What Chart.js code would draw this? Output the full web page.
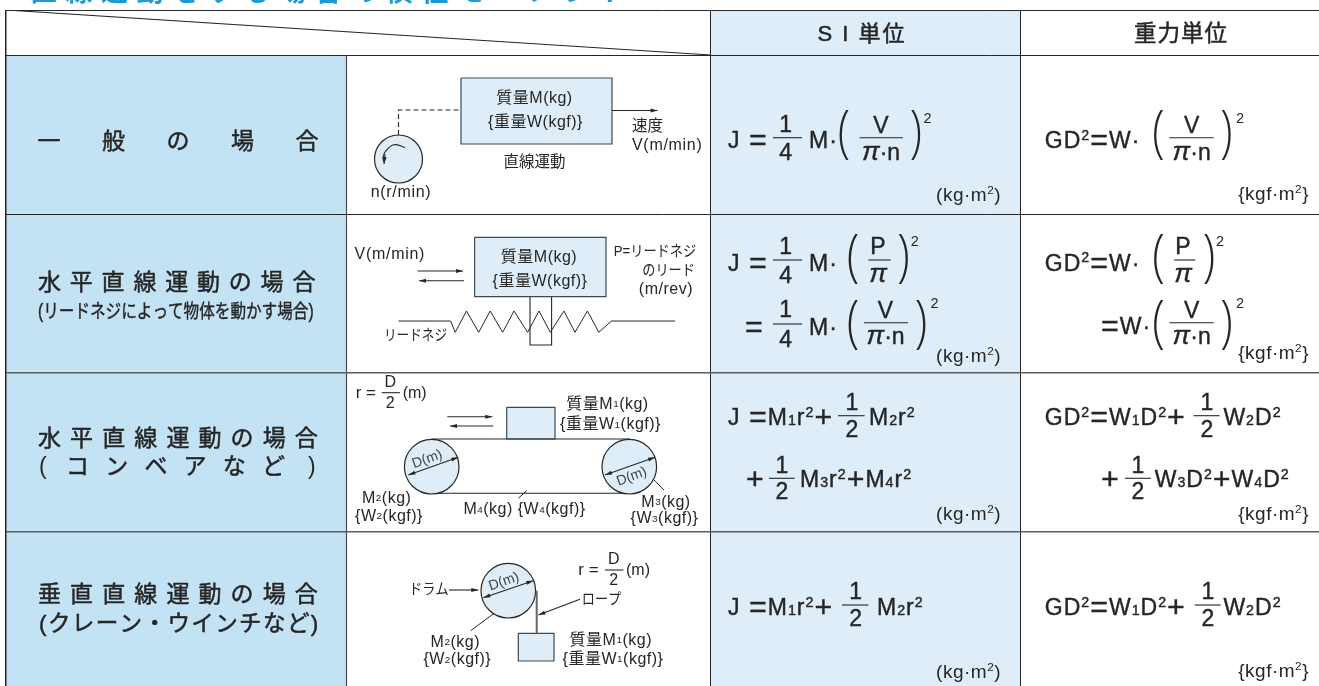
<!DOCTYPE html>
<html>
<head>
  <meta charset="utf-8">
  <title>直線運動をする場合の慣性モーメント</title>
  <script src="https://cdn.jsdelivr.net/npm/chart.js"></script>
  <style>
    html, body { margin: 0; background: #fff; overflow: hidden; }
    canvas { display: block; }
  </style>
</head>
<body>
  <canvas id="inertiaTable" width="1319" height="686"></canvas>
  <script>
    // table rules (scale units = picture px)
    const colEdges = [6, 710.5, 1020.5];
    const rowEdges = [10, 55, 214, 373, 532];

    // text
    const titleText = '■直線運動をする場合の慣性モーメント';
    const unitHeads = ['S I 単位', '重力単位'];
    const caseTitles = ['一般の場合', '水平直線運動の場合', '水平直線運動の場合', '垂直直線運動の場合'];
    const caseNotes = ['(リードネジによって物体を動かす場合)', 'コンベアなど', '(クレーン・ウインチなど)'];
    const massLabels = ['質量M(kg)', '{重量W(kgf)}', '質量M_1(kg)', '{重量W_1(kgf)}'];
    const siUnit = '(kg·m^2)';
    const gravityUnit = '{kgf·m^2}';

    // diagram 1
    const dashPath = [[398.5, 135], [398.5, 110], [461, 110]];
    const spinArc = [[405, 147.5], [394, 144.7], [386, 150.7], [383, 157.3], [384, 162]];
    // diagram 2
    const screwPath = [[398.5, 321], [450.6, 321], [455.2, 332.3], [466.5, 311], [478.7, 332.3], [490.2, 311],
      [502.7, 332.3], [514, 311], [527.6, 332.3], [539, 311], [550.3, 332.3], [563.9, 311], [575, 332.3],
      [587.4, 311], [598.8, 332.3], [611.4, 321], [675, 321]];
    const nutPath = [[530, 296.7], [530, 345], [551.6, 345], [551.6, 296.7]];
    // boxes: x0, y0, x1, y1
    const massBoxes = [[461, 78, 612, 144], [474.6, 237.3, 606, 296.7], [506.7, 407.3, 555, 439], [518.3, 633.3, 554, 661]];
    // pulleys: x, y, radius
    const pulleys = [[398.5, 159, 24], [431.7, 466.7, 27.3], [629.3, 466.7, 27.3], [508.3, 590.7, 27.3]];
    const beltLines = [[[431.7, 439], [630, 439]], [[431.7, 493.3], [630, 493.3]]];
    const leaderLines = [[[518.3, 498.3], [526.7, 490.7]], [[653.3, 479.3], [664, 490]], [[494, 613.3], [470.7, 630.7]]];
    const ropeLine = [[536.7, 590.7], [536.7, 633.3]];
    // arrows: tail, tip
    const arrows = [
      [[612, 110.5], [657.6, 110.5]],
      [[417.6, 271], [463, 271]], [[464, 280.7], [419, 280.7]],
      [[447.3, 416.7], [492.3, 416.7]], [[493.3, 426], [450, 426]],
      [[449, 590], [478.3, 590]], [[580, 599.3], [538.3, 615]],
      [[385, 154], [384, 164]]
    ];
    const doubleArrows = [
      [[408.3, 475], [458.3, 457.3]], [[605, 475], [655, 457.3]], [[483.3, 597.7], [533.3, 580.7]]
    ];
    // fraction bars: x0, x1, y
    const fractionBars = [
      [773, 802, 137.7], [859.5, 903, 137.7], [1169.4, 1213.7, 137.7],
      [773, 802, 260], [868.4, 890.6, 260], [1174, 1195.4, 260],
      [773, 802, 324], [864, 908, 322.7], [1169.4, 1213.7, 322.7],
      [838, 864.6, 415.7], [1193.5, 1219.5, 415.7], [769, 794.7, 478.3], [1124.8, 1150.8, 478.3],
      [842, 868.4, 605], [1194.7, 1220.7, 605],
      [381.7, 400, 392.7], [605, 623.3, 570]
    ];

    const INK = '#262626';
    const RULE = '#444';
    const PALE = '#deedf7';
    const SKY = '#c3e2f3';
    const FONT = '"Liberation Sans", "Noto Sans CJK JP", sans-serif';

    const toPoints = pts => pts.map(p => ({ x: p[0], y: p[1] }));

    function line(pts, extra) {
      return Object.assign({
        type: 'scatter', data: toPoints(pts), showLine: true, pointRadius: 0,
        borderColor: INK, borderWidth: 1.1, fill: false
      }, extra);
    }

    function poly(pts, color, stroke) {
      const closed = pts.concat([pts[0]]);
      return line(closed, { fill: 'shape', backgroundColor: color, borderColor: stroke || color, borderWidth: stroke ? 1.2 : 0 });
    }

    const rect = (x0, y0, x1, y1) => [[x0, y0], [x1, y0], [x1, y1], [x0, y1]];

    // little filled head with its tip on the given point
    function head(tail, tip, size) {
      const dx = tip[0] - tail[0], dy = tip[1] - tail[1];
      const len = Math.hypot(dx, dy), ux = dx / len, uy = dy / len;
      const bx = tip[0] - ux * size, by = tip[1] - uy * size;
      return poly([tip, [bx - uy * 2, by + ux * 2], [bx + uy * 2, by - ux * 2]], INK);
    }

    const datasets = [
      poly(rect(6, 55, 346.5, 686), SKY),
      poly(rect(710.5, 10, 1020.5, 686), PALE),
      line([[346.5, 55], [346.5, 686]], { borderColor: RULE }),
      line([[6, 10], [710.5, 55]], { borderColor: INK })
    ];
    massBoxes.forEach(b => datasets.push(poly(rect(b[0], b[1], b[2], b[3]), PALE, '#3d4a52')));
    beltLines.forEach(l => datasets.push(line(l)));
    pulleys.forEach(p => datasets.push({
      type: 'scatter', data: [{ x: p[0], y: p[1] }], pointRadius: p[2],
      pointBackgroundColor: PALE, pointBorderColor: INK, pointBorderWidth: 1.2
    }));
    datasets.push(line(dashPath, { borderDash: [5, 3] }));
    datasets.push(line(spinArc, { tension: 0.4 }));
    datasets.push(line(screwPath, { borderWidth: 1 }));
    datasets.push(line(nutPath));
    leaderLines.forEach(l => datasets.push(line(l, { borderWidth: 1 })));
    datasets.push(line(ropeLine, { borderColor: '#666', borderWidth: 2 }));
    arrows.forEach(a => {
      datasets.push(line(a));
      datasets.push(head(a[0], a[1], 7));
    });
    doubleArrows.forEach(a => {
      datasets.push(line(a));
      datasets.push(head(a[0], a[1], 7));
      datasets.push(head(a[1], a[0], 7));
    });
    fractionBars.forEach(b => datasets.push(line([[b[0], b[2]], [b[1], b[2]]], { borderWidth: 1.1 })));

    // ^x raises, _x lowers the next character, π goes italic, ops grow when asked
    function parseRuns(str, size, ops) {
      const runs = [];
      const plain = s => {
        const last = runs[runs.length - 1];
        if (last && last.plain) last.text += s;
        else runs.push({ text: s, size: size, dy: 0, plain: true });
      };
      for (let i = 0; i < str.length; i++) {
        const c = str[i];
        if (c === '^') runs.push({ text: str[++i], size: size * 0.62, dy: -size * 0.36 });
        else if (c === '_') runs.push({ text: str[++i], size: size * 0.62, dy: 0 });
        else if (c === 'π') runs.push({ text: c, size: size * 1.15, dy: 0, italic: true });
        else if (ops && (c === '=' || c === '+')) runs.push({ text: c, size: size * 1.32, dy: size * 0.1 });
        else plain(c);
      }
      return runs;
    }

    const cellText = {
      id: 'cellText',
      afterDraw(chart) {
        const ctx = chart.ctx;
        const sx = chart.scales.x, sy = chart.scales.y;

        function put(str, x, y, o) {
          o = o || {};
          const size = o.size || 16;
          const runs = parseRuns(str, size, o.ops);
          const family = o.family || FONT;
          const weight = o.weight || 0;
          const setFont = r => {
            ctx.font = (r.italic ? 'italic ' : '') + (o.bold ? o.bold + ' ' : '') + r.size + 'px ' + family;
          };
          ctx.save();
          ctx.fillStyle = o.color || INK;
          ctx.strokeStyle = o.color || INK;
          ctx.lineWidth = weight;
          ctx.lineJoin = 'round';
          ctx.textBaseline = o.middle ? 'middle' : 'alphabetic';
          ctx.letterSpacing = (o.spacing !== undefined ? o.spacing : 0.5) + 'px';
          let width = 0;
          runs.forEach(r => {
            setFont(r);
            r.w = ctx.measureText(r.text).width;
            width += r.w;
          });
          ctx.translate(sx.getPixelForValue(x), sy.getPixelForValue(y));
          if (o.rotate) ctx.rotate(o.rotate * Math.PI / 180);
          ctx.scale(o.squeeze || 1, 1);
          let pen = o.align === 'center' ? -width / 2 : o.align === 'right' ? -width : 0;
          ctx.textAlign = 'left';
          runs.forEach(r => {
            setFont(r);
            ctx.fillText(r.text, pen, r.dy);
            if (weight) ctx.strokeText(r.text, pen, r.dy);
            pen += r.w;
          });
          ctx.restore();
        }

        const F = 23;
        const mid = (s, x, y, o) => put(s, x, y, Object.assign({ align: 'center', middle: true }, o));
        const kana = (s, x, y, o) => put(s, x, y, Object.assign({ size: 15, spacing: 0, squeeze: 0.88, middle: true }, o));
        const eq = (s, x, y) => put(s, x, y, { size: F, ops: true, spacing: 1, weight: 0.4 });
        const ctr = (s, x, y) => put(s, x, y, { size: F, align: 'center', spacing: 0, weight: 0.4 });
        const paren = (s, x, top, bottom) => {
          const size = (bottom - top) / 0.94;
          put(s, x, bottom - 0.21 * size, {
            size: size, align: 'center', squeeze: 0.8, spacing: 0, bold: '300', family: '"Open Sans", sans-serif'
          });
        };
        const sup2 = (x, y) => put('2', x, y, { size: 14.5, align: 'center', spacing: 0 });

        put(titleText, 5, 1, { size: 27, bold: 'bold', color: '#1b9ad6', spacing: 8.6 });

        // header cells
        mid(unitHeads[0], 862, 35, { size: 22, spacing: 2, weight: 0.5 });
        mid(unitHeads[1], 1181, 35, { size: 22.5, spacing: 1, weight: 0.5 });

        // row titles
        const titleStyle = { size: 23, middle: true, weight: 0.5 };
        put(caseTitles[0], 37.5, 143, Object.assign({ spacing: 41.5 }, titleStyle));
        put(caseTitles[1], 38, 284, Object.assign({ spacing: 8.8 }, titleStyle));
        put(caseNotes[0], 38, 313, { size: 19.5, squeeze: 0.8, middle: true, spacing: 0, weight: 0.4 });
        put(caseTitles[2], 38, 440, Object.assign({ spacing: 9.1 }, titleStyle));
        mid('(', 43, 468, { size: 23 });
        put(caseNotes[1], 66, 468, Object.assign({ spacing: 16.2 }, titleStyle));
        mid(')', 312, 468, { size: 23 });
        put(caseTitles[3], 38, 596, Object.assign({ spacing: 9.1 }, titleStyle));
        put(caseNotes[2], 39, 625, Object.assign({ spacing: 1.4 }, titleStyle, { size: 22.5 }));

        // diagram 1
        mid(massLabels[0], 534.5, 99);
        mid(massLabels[1], 535.5, 123);
        put('速度', 632, 126.5, { middle: true, size: 15.5, spacing: 0 });
        put('V(m/min)', 632, 146, { middle: true, spacing: 0.7 });
        mid('直線運動', 534.5, 163, { size: 15.5, spacing: 0 });
        mid('n(r/min)', 401, 193, { spacing: 0.7 });

        // diagram 2
        mid(massLabels[0], 539, 257.3);
        mid(massLabels[1], 540, 281.7);
        put('V(m/min)', 354.6, 255, { middle: true, spacing: 0.7 });
        kana('P=リードネジ', 613.7, 251.7);
        kana('のリード', 695, 271, { align: 'right' });
        put('(m/rev)', 693, 290, { middle: true, align: 'right', spacing: 0.5 });
        kana('リードネジ', 384, 336, { squeeze: 0.84 });

        // diagram 3
        put('r =', 355.7, 398.3, { size: 17, spacing: 0 });
        mid('D', 390.5, 382.5);
        mid('2', 390.5, 403.5);
        put('(m)', 402.7, 398.3, { spacing: 0 });
        mid(massLabels[2], 607.5, 404.3);
        mid(massLabels[3], 610.5, 425);
        mid('D(m)', 427.3, 459.3, { size: 14, rotate: -20, color: '#444', spacing: 0 });
        mid('D(m)', 631.7, 476.7, { size: 14, rotate: -20, color: '#444', spacing: 0 });
        mid('M_2(kg)', 386.7, 498.3);
        mid('{W_2(kgf)}', 389, 516.7);
        mid('M_4(kg) {W_4(kgf)}', 524.5, 510);
        mid('M_3(kg)', 666, 502.3);
        mid('{W_3(kgf)}', 664.5, 519);

        // diagram 4
        mid('D(m)', 504, 581.7, { size: 14, rotate: -19, color: '#444', spacing: 0 });
        kana('ドラム', 409, 590);
        put('r =', 578.3, 575, { size: 17, spacing: 0 });
        mid('D', 614, 560);
        mid('2', 614, 580.5);
        put('(m)', 626, 575, { spacing: 0 });
        kana('ロープ', 581.7, 600);
        mid('M_2(kg)', 455.3, 642.7);
        mid('{W_2(kgf)}', 457.3, 660);
        mid(massLabels[2], 610.8, 640.7);
        mid(massLabels[3], 613, 659.3);

        // row 1 formulas
        eq('J', 728, 148); eq('=', 749, 148); ctr('1', 785.7, 131.7); ctr('4', 785.7, 160);
        eq('M·', 809, 148);
        paren('(', 844, 110, 163); ctr('V', 881, 133); ctr('π·n', 881, 160); paren(')', 916, 110, 163);
        sup2(927.5, 123);
        eq('GD^2=W·', 1044.8, 148);
        paren('(', 1158.5, 110, 163); ctr('V', 1191.6, 133); ctr('π·n', 1191.6, 160); paren(')', 1226.5, 110, 163);
        sup2(1240, 123);

        // row 2 formulas
        eq('J', 728, 270.7); eq('=', 749, 270.7); ctr('1', 785.7, 254); ctr('4', 785.7, 282.7);
        eq('M·', 809, 270.7);
        paren('(', 853, 233, 287); ctr('P', 878, 254); ctr('π', 878, 281.7); paren(')', 903.4, 233, 287);
        sup2(914.7, 246);
        eq('=', 745, 335); ctr('1', 785.7, 317); ctr('4', 785.7, 346.7);
        eq('M·', 809, 335);
        paren('(', 853, 299, 353); ctr('V', 885.5, 318); ctr('π·n', 885.5, 344); paren(')', 921, 299, 353);
        sup2(934.5, 308);
        eq('GD^2=W·', 1044.8, 270.7);
        paren('(', 1158.5, 233, 287); ctr('P', 1183, 254); ctr('π', 1183, 281.7); paren(')', 1209, 233, 287);
        sup2(1220, 246);
        eq('=W·', 1101, 333.5);
        paren('(', 1158.5, 299, 353); ctr('V', 1191.6, 318); ctr('π·n', 1191.6, 344); paren(')', 1226.5, 299, 353);
        sup2(1240, 308);

        // row 3 formulas
        eq('J', 728, 425); eq('=M_1r^2+', 749, 425); ctr('1', 851.8, 410); ctr('2', 851.8, 436.7);
        eq('M_2r^2', 869, 425);
        eq('+', 746, 487); ctr('1', 782, 472.7); ctr('2', 782, 499.3);
        eq('M_3r^2+M_4r^2', 800, 487);
        eq('GD^2=W_1D^2+', 1044.8, 425); ctr('1', 1207, 410); ctr('2', 1207, 436.7);
        eq('W_2D^2', 1223.4, 425);
        eq('+', 1101, 487); ctr('1', 1138, 472.7); ctr('2', 1138, 499.3);
        eq('W_3D^2+W_4D^2', 1154.7, 487);

        // row 4 formulas
        eq('J', 728, 615); eq('=M_1r^2+', 749, 615); ctr('1', 855.6, 599.3); ctr('2', 855.6, 626);
        eq('M_2r^2', 877, 615);
        eq('GD^2=W_1D^2+', 1044.8, 615); ctr('1', 1208, 599.3); ctr('2', 1208, 626);
        eq('W_2D^2', 1223.4, 615);

        // units
        [201, 361.7, 520, 678.3].forEach(y => put(siUnit, 1001, y, { size: 19, align: 'right', spacing: 0.5 }));
        [200, 359, 520, 676.7].forEach(y => put(gravityUnit, 1309, y, { size: 19, align: 'right', spacing: 0.5 }));
      }
    };

    new Chart(document.getElementById('inertiaTable').getContext('2d'), {
      data: { datasets: datasets.slice().reverse() },
      plugins: [cellText],
      options: {
        responsive: false,
        animation: false,
        events: [],
        layout: { autoPadding: false, padding: { left: 6, top: 10, right: 0, bottom: 0 } },
        plugins: { legend: { display: false }, tooltip: { enabled: false } },
        scales: {
          x: {
            type: 'linear', min: 6, max: 1319,
            afterBuildTicks: s => { s.ticks = colEdges.map(v => ({ value: v })); },
            ticks: { display: false },
            grid: { color: INK, drawTicks: false, z: 1, lineWidth: c => (c.tick && c.tick.value === 6 ? 1.5 : 1) },
            border: { display: false }
          },
          y: {
            type: 'linear', min: 10, max: 686, reverse: true,
            afterBuildTicks: s => { s.ticks = rowEdges.map(v => ({ value: v })); },
            ticks: { display: false },
            grid: {
              color: c => (c.tick && c.tick.value > 300 ? '#5d5d5d' : INK),
              lineWidth: c => (c.tick && c.tick.value > 300 ? 1.5 : 1),
              drawTicks: false, z: 1
            },
            border: { display: false }
          }
        }
      }
    });
  </script>
</body>
</html>
